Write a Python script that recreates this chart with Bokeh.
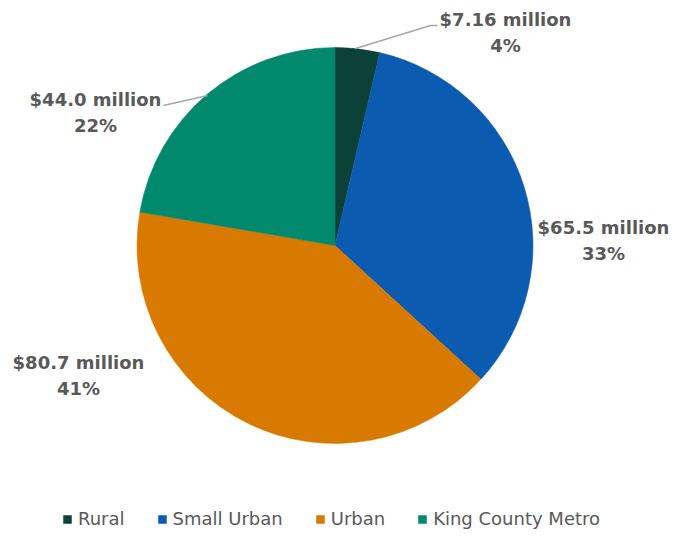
import math
from bokeh.plotting import figure
from bokeh.models import ColumnDataSource, Range1d, Legend, LegendItem
from bokeh.core.properties import value
from bokeh.embed import file_html
from bokeh.resources import INLINE

categories = ["Rural", "Small Urban", "Urban", "King County Metro"]
amounts = [7.16, 65.5, 80.7, 44.0]
amount_labels = ["$7.16 million", "$65.5 million", "$80.7 million", "$44.0 million"]
colors = ["#0B4136", "#0B5CB0", "#D97A00", "#00896D"]

W, H = 669, 531
FONT = "DejaVu Sans"
TEXT_COLOR = "#595959"

def px(x):
    return x

def py(y):
    return H - y

total = sum(amounts)
starts, ends, pcts = [], [], []
cum = 0.0
for a in amounts:
    starts.append(math.pi / 2 - 2 * math.pi * cum / total)
    cum += a
    ends.append(math.pi / 2 - 2 * math.pi * cum / total)
    pcts.append(f"{round(a / total * 100)}%")

src = ColumnDataSource(dict(cat=categories, start=starts, end=ends, color=colors))

p = figure(width=W, height=H, output_backend="svg", toolbar_location=None,
           x_range=Range1d(0, W), y_range=Range1d(0, H), min_border=0)
p.axis.visible = False
p.grid.visible = False
p.outline_line_color = None

cx, cy, r = px(334.5), py(245), 198
wr = p.wedge(x=cx, y=cy, radius=r, start_angle="start", end_angle="end",
             direction="clock", fill_color="color", line_color="color",
             line_width=0.5, source=src)

# leader lines
p.multi_line(xs=[[px(355), px(430), px(437)], [px(163), px(207)]],
             ys=[[py(48), py(25), py(25)], [py(105), py(95)]],
             line_color="#A6A6A6", line_width=1.5)

label_pos = [(505, 19), (603, 227), (78, 362), (95, 99)]
tx, ty1, ty2 = [], [], []
for (x, y) in label_pos:
    tx.append(px(x)); ty1.append(py(y)); ty2.append(py(y + 26))
p.text(x=tx, y=ty1, text=amount_labels, text_font=value(FONT), text_font_style="bold",
       text_font_size="18px", text_color=TEXT_COLOR, text_align="center", text_baseline="middle")
p.text(x=tx, y=ty2, text=pcts, text_font=value(FONT), text_font_style="bold",
       text_font_size="18px", text_color=TEXT_COLOR, text_align="center", text_baseline="middle")

items = [LegendItem(label=c, renderers=[wr], index=i) for i, c in enumerate(categories)]
legend = Legend(items=items, orientation="horizontal", location=(62, 2),
                glyph_width=10, glyph_height=10, label_height=14, label_standoff=6,
                spacing=32, padding=0, margin=0, border_line_color=None,
                background_fill_alpha=0, label_text_font=FONT,
                label_text_font_size="18px", label_text_color=TEXT_COLOR)
p.add_layout(legend)

open("out.html", "w").write(file_html(p, INLINE))
